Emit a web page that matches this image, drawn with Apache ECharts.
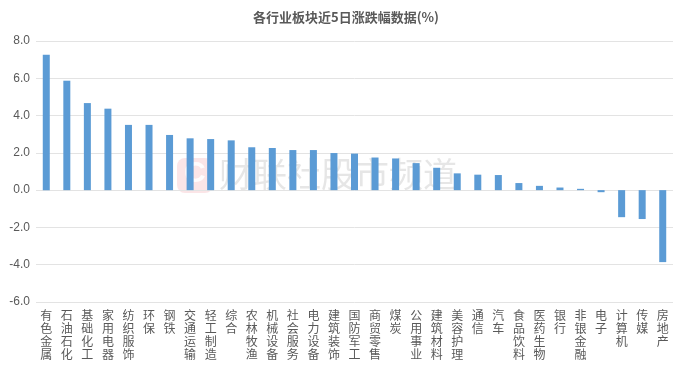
<!DOCTYPE html>
<html><head><meta charset="utf-8">
<script src="https://cdn.jsdelivr.net/npm/echarts@6/dist/echarts.min.js"></script>
<style>html,body{margin:0;padding:0;background:#fff}#c{width:692px;height:365px}</style>
</head><body><div id="c"></div>
<script>
const categories = ['有色金属','石油石化','基础化工','家用电器','纺织服饰','环保','钢铁','交通运输','轻工制造','综合','农林牧渔','机械设备','社会服务','电力设备','建筑装饰','国防军工','商贸零售','煤炭','公用事业','建筑材料','美容护理','通信','汽车','食品饮料','医药生物','银行','非银金融','电子','计算机','传媒','房地产'];
const values = [7.26,5.87,4.67,4.37,3.50,3.50,2.96,2.78,2.74,2.67,2.30,2.26,2.15,2.15,1.99,1.96,1.75,1.70,1.45,1.20,0.90,0.83,0.81,0.38,0.23,0.14,0.07,-0.11,-1.45,-1.55,-3.86];
const titleText = '各行业板块近5日涨跌幅数据(%)';
const watermark = '财联社股市频道';
const yMin = -6, yMax = 8, yStep = 2;

const chart = echarts.init(document.getElementById('c'));
const font = '"Noto Sans CJK SC", "Noto Sans", sans-serif';
chart.setOption({
  animation: false,
  title: {text: titleText, left: 'center', top: 6,
    textStyle: {fontSize: 13, fontWeight: 'bold', color: '#595959', fontFamily: font}},
  graphic: [
    {type: 'rect', left: 177, top: 158, shape: {width: 36, height: 35, r: 8},
     style: {fill: 'rgba(240,150,160,0.25)'}, z: -1},
    {type: 'text', left: 184, top: 159, style: {text: 'C', font: 'bold 30px sans-serif', fill: 'rgba(255,255,255,0.9)'}, z: -1},
    {type: 'text', left: 219, top: 157, style: {text: watermark, font: '34px ' + font, fill: 'rgba(200,200,200,0.45)'}, z: -1}
  ],
  grid: {left: 36, right: 19, top: 41, bottom: 63},
  xAxis: {type: 'category', data: categories,
    axisLine: {show: false}, axisTick: {show: false},
    axisLabel: {interval: 0, margin: 7, color: '#595959', fontSize: 12, lineHeight: 13, fontFamily: font,
      formatter: v => v.split('').join('\n'), verticalAlign: 'top'}},
  yAxis: {type: 'value', min: yMin, max: yMax, interval: yStep,
    axisLine: {show: false}, axisTick: {show: false},
    axisLabel: {color: '#595959', fontSize: 12, margin: 6, fontFamily: 'Liberation Sans, sans-serif',
      formatter: v => v.toFixed(1)},
    splitLine: {lineStyle: {color: '#e3e3e3', width: 1}}},
  series: [{type: 'bar', data: values, barWidth: 7,
    itemStyle: {color: '#5b9bd5'}}]
});
</script></body></html>
